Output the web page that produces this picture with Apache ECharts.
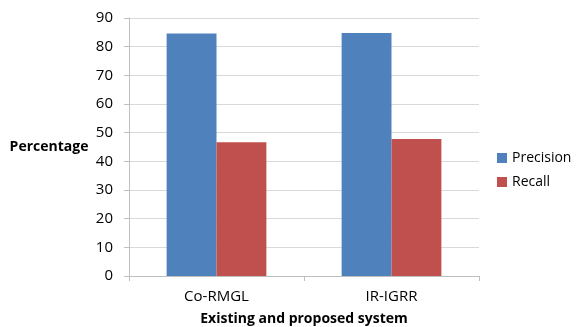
<!DOCTYPE html>
<html><head><meta charset="utf-8">
<script src="https://cdn.jsdelivr.net/npm/echarts@6/dist/echarts.min.js"></script>
<style>html,body{margin:0;padding:0;background:#fff}#c{width:577px;height:327px}</style>
</head><body><div id="c"></div>
<script>
const categories = ["Co-RMGL", "IR-IGRR"];
const precision = [84.6, 84.8];
const recall = [46.7, 47.8];
const seriesNames = ["Precision", "Recall"];
const yTicks = [0, 10, 20, 30, 40, 50, 60, 70, 80, 90];

const font = "'Open Sans', 'Liberation Sans', sans-serif";
const chart = echarts.init(document.getElementById('c'), null, {renderer: 'canvas'});
chart.setOption({
  animation: false,
  backgroundColor: '#fff',
  grid: {left: 129, right: 98, top: 18, bottom: 51, containLabel: false, outerBoundsMode: 'none'},
  legend: {
    orient: 'vertical', left: 497, top: 151, itemWidth: 10, itemHeight: 10, itemGap: 10,
    padding: 0,
    icon: 'rect',
    textStyle: {fontFamily: font, fontSize: 14, color: '#000'},
    data: seriesNames
  },
  xAxis: {
    type: 'category', data: categories,
    name: 'Existing and proposed system', nameLocation: 'middle', nameGap: 36,
    nameTextStyle: {fontFamily: font, fontSize: 14, fontWeight: 'bold', color: '#000'},
    axisLine: {lineStyle: {color: '#bfbfbf'}},
    axisTick: {show: true, length: 5, lineStyle: {color: '#bfbfbf'}},
    axisLabel: {fontFamily: font, fontSize: 15, color: '#000', margin: 13}
  },
  yAxis: {
    type: 'value', min: yTicks[0], max: yTicks[yTicks.length - 1], interval: 10,
    name: 'Percentage', nameLocation: 'middle', nameRotate: 0, nameGap: 80,
    nameTextStyle: {fontFamily: font, fontSize: 14, fontWeight: 'bold', color: '#000', align: 'center'},
    axisLine: {show: true, lineStyle: {color: '#bfbfbf'}},
    axisTick: {show: true, length: 5, lineStyle: {color: '#bfbfbf'}},
    splitLine: {lineStyle: {color: '#d9d9d9'}},
    axisLabel: {fontFamily: font, fontSize: 15, color: '#000', margin: 16}
  },
  series: [
    {name: seriesNames[0], type: 'bar', data: precision, itemStyle: {color: '#4f81bd'}, barGap: '0%', barCategoryGap: '43%'},
    {name: seriesNames[1], type: 'bar', data: recall, itemStyle: {color: '#c0504d'}, barGap: '0%', barCategoryGap: '43%'}
  ]
});
</script></body></html>
